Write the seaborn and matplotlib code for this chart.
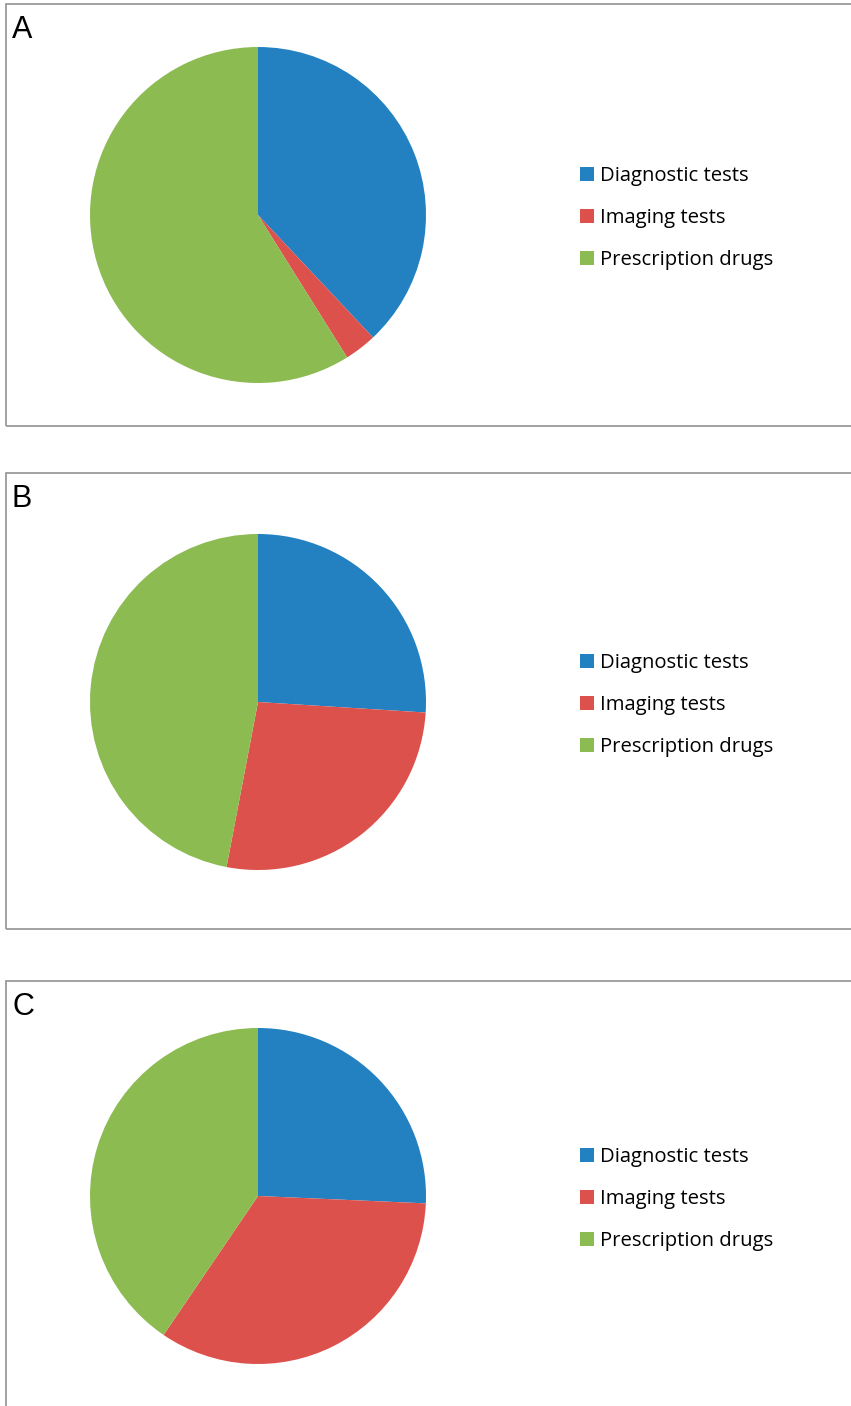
import matplotlib
matplotlib.use("Agg")
import matplotlib.pyplot as plt
from matplotlib.patches import Rectangle, Patch
import seaborn as sns

sns.set_theme(style="white")
plt.rcParams['font.family'] = ['Open Sans', 'DejaVu Sans']
plt.rcParams['text.color'] = 'black'

categories = ["Diagnostic tests", "Imaging tests", "Prescription drugs"]
panel_labels = ["A", "B", "C"]
share_a = [38.0, 3.1, 58.9]
share_b = [26.0, 27.0, 47.0]
share_c = [25.7, 33.8, 40.5]
shares = [share_a, share_b, share_c]
colors = ["#2381C1", "#DC514B", "#8CBB52"]

W, H = 851, 1406
fig = plt.figure(figsize=(W / 100, H / 100), dpi=100)
fig.patch.set_facecolor("white")

def fx(x):
    return x / W

def fy(y):
    return 1 - y / H

# panel frames: (top, bottom) in px
frames = [(4, 426), (473, 929), (981, 1420)]
centers = [215, 702, 1196]
R = 168
CX = 258

for i, (top, bot) in enumerate(frames):
    rect = Rectangle((fx(6), fy(bot)), fx(900), (bot - top) / H,
                     transform=fig.transFigure, fill=False,
                     edgecolor="#9a9a9a", linewidth=1.3, clip_on=False)
    fig.patches.append(rect)
    fig.text(fx(12), fy(top + 11), panel_labels[i], family=['Liberation Sans'],
             fontsize=22, va="top", ha="left", color="black")

    cy = centers[i]
    ax = fig.add_axes([fx(CX - R), fy(cy + R), 2 * R / W, 2 * R / H])
    wedges, _ = ax.pie(shares[i], colors=colors, startangle=90, counterclock=False,
                       radius=1, wedgeprops=dict(linewidth=0))
    ax.set_xlim(-1, 1)
    ax.set_ylim(-1, 1)
    ax.set_aspect("equal")
    ax.axis("off")

    handles = [Patch(facecolor=c, edgecolor="none") for c in colors]
    fig.legend(handles, categories, loc="center left",
               bbox_to_anchor=(fx(572), fy(cy + 3)), bbox_transform=fig.transFigure,
               frameon=False, fontsize=14.6, handlelength=0.69, handleheight=0.69,
               handletextpad=0.3, labelspacing=1.08, borderaxespad=0,
               labelcolor="black")

fig.savefig("out.png", dpi=100, facecolor="white")
